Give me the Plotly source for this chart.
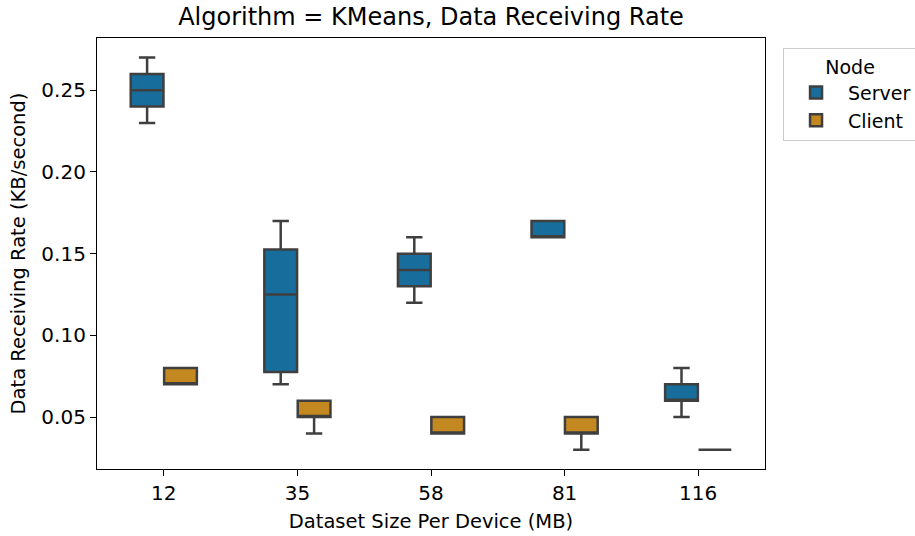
import plotly.graph_objects as go

# Data
sizes = ["12", "35", "58", "81", "116"]

server_q1 = [0.24, 0.0775, 0.13, 0.16, 0.06]
server_med = [0.25, 0.125, 0.14, 0.16, 0.06]
server_q3 = [0.26, 0.1525, 0.15, 0.17, 0.07]
server_lo = [0.23, 0.07, 0.12, 0.16, 0.05]
server_hi = [0.27, 0.17, 0.16, 0.17, 0.08]

client_q1 = [0.07, 0.05, 0.04, 0.04, 0.03]
client_med = [0.07, 0.05, 0.04, 0.04, 0.03]
client_q3 = [0.08, 0.06, 0.05, 0.05, 0.03]
client_lo = [0.07, 0.04, 0.04, 0.03, 0.03]
client_hi = [0.08, 0.06, 0.05, 0.05, 0.03]

y_ticks = [0.05, 0.10, 0.15, 0.20, 0.25]

FONT = "DejaVu Sans"
EDGE = "#3f3f3f"

fig = go.Figure()
fig.add_trace(go.Box(
    name="Server", x=sizes, q1=server_q1, median=server_med, q3=server_q3,
    lowerfence=server_lo, upperfence=server_hi, boxpoints=False,
    fillcolor="#176d9c", line=dict(color=EDGE, width=2.5), whiskerwidth=0.5,
    hoverinfo="skip",
))
fig.add_trace(go.Box(
    name="Client", x=sizes, q1=client_q1, median=client_med, q3=client_q3,
    lowerfence=client_lo, upperfence=client_hi, boxpoints=False,
    fillcolor="#c38820", line=dict(color=EDGE, width=2.5), whiskerwidth=0.5,
    hoverinfo="skip",
))

fig.update_layout(
    width=915, height=536,
    margin=dict(l=97, r=150, t=38, b=67, autoexpand=False),
    paper_bgcolor="white", plot_bgcolor="white",
    font=dict(family=FONT, size=19, color="black"),
    boxmode="group", boxgap=0.5, boxgroupgap=0.02,
    title=dict(text="Algorithm = KMeans, Data Receiving Rate",
               x=0.5, xref="paper", y=1 - 17 / 536, yref="container",
               xanchor="center", yanchor="middle",
               font=dict(family=FONT, size=24, color="black")),
    legend=dict(
        title=dict(text="Node", side="top center", font=dict(size=19)),
        x=1.027, y=0.977, xanchor="left", yanchor="top",
        bgcolor="white", bordercolor="#cccccc", borderwidth=1,
        font=dict(size=19), itemwidth=54,
    ),
    xaxis=dict(
        type="category", range=[-0.5, 4.5],
        showline=True, linecolor="black", linewidth=1.25, mirror=True,
        ticks="outside", ticklen=6, tickwidth=1.25, tickcolor="black",
        tickfont=dict(size=20),
        showgrid=False, zeroline=False,
        title=dict(text="Dataset Size Per Device (MB)", standoff=10,
                   font=dict(size=19.5)),
    ),
    yaxis=dict(
        range=[0.0182, 0.282],
        tickvals=y_ticks, tickformat=".2f",
        showline=True, linecolor="black", linewidth=1.25, mirror=True,
        ticks="outside", ticklen=6, tickwidth=1.25, tickcolor="black",
        tickfont=dict(size=20),
        showgrid=False, zeroline=False,
        title=dict(text="Data Receiving Rate (KB/second)", standoff=10,
                   font=dict(size=19.5)),
    ),
)

fig.write_html("out.html")
